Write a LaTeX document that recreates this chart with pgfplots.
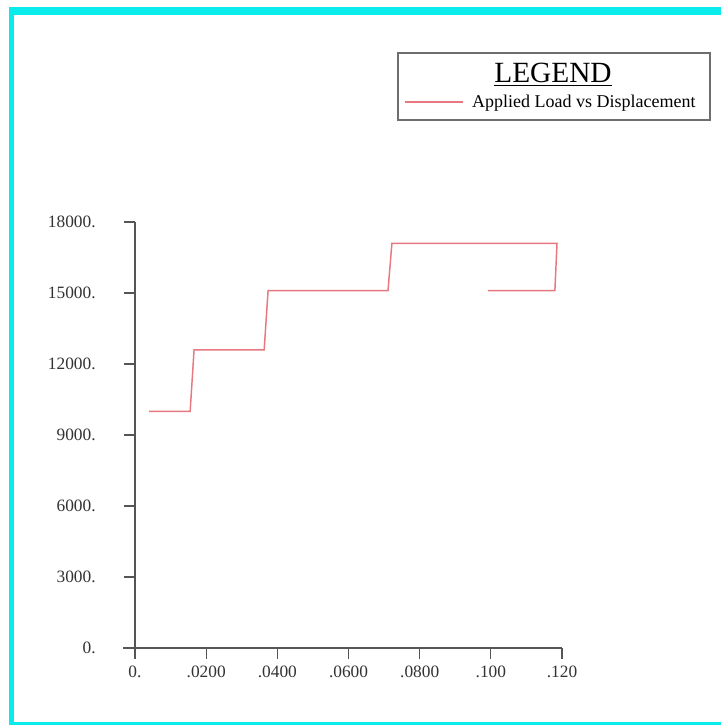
\documentclass[border=0pt]{standalone}
\usepackage{pgfplots}
\pgfplotsset{compat=1.18}
\usepackage{fontspec}
\setmainfont{Liberation Serif}
\definecolor{bordercyan}{RGB}{10,235,235}
\definecolor{axisgray}{RGB}{85,85,85}
\definecolor{loadred}{RGB}{232,120,128}
\definecolor{boxgray}{RGB}{110,110,110}
\begin{document}
\begin{tikzpicture}[x=0.75pt,y=0.75pt]
\useasboundingbox (0,0) rectangle (721,725);
\fill[white] (0,0) rectangle (721,725);
% cyan frame
\fill[bordercyan] (9,0) rectangle (14,718);
\fill[bordercyan] (9,710) rectangle (721,718);
\fill[bordercyan] (9,0) rectangle (721,3);
\begin{axis}[
  at={(101.25pt,57.75pt)}, anchor=south west,
  scale only axis, width=320.25pt, height=319.5pt,
  xmin=0, xmax=0.12, ymin=0, ymax=18000,
  scaled ticks=false,
  axis lines=left,
  axis line style={-, color=axisgray, line width=0.9pt},
  x axis line style={shorten <=-9pt},
  y axis line style={shorten <=-3pt},
  tick align=outside, major tick length=8pt,
  tick style={color=axisgray, line width=0.9pt},
  xtick={0,0.02,0.04,0.06,0.08,0.1,0.12},
  xticklabels={0.,.0200,.0400,.0600,.0800,.100,.120},
  ytick={0,3000,6000,9000,12000,15000,18000},
  yticklabels={0.,3000.,6000.,9000.,12000.,15000.,18000.},
  ticklabel style={font=\fontsize{13}{15}\selectfont, color=black!80},
  xticklabel style={yshift=-2pt},
  yticklabel style={anchor=east, xshift=-18pt},
  clip=false,
  legend style={at={(axis description cs:0.62,1.282)}, anchor=west,
    draw=none, fill=none, column sep=4pt, font=\fontsize{13.5}{15}\selectfont},
  legend image code/.code={\draw[#1] (0pt,0pt) -- (44pt,0pt);},
]
\addplot[color=loadred, line width=1.1pt] coordinates {
  (0.0040,10000) (0.0155,10000) (0.0166,12600) (0.0363,12600)
  (0.0374,15100) (0.0711,15100) (0.0722,17100) (0.1186,17100)
  (0.1180,15100) (0.0992,15100)
};
\addlegendentry{Applied Load vs Displacement}
\end{axis}
% legend box and title
\draw[boxgray, line width=1.1pt] (398,605) rectangle (710,672);
\node[font=\fontsize{22}{24}\selectfont, inner sep=0pt, anchor=base] at (553,642) {\underline{LEGEND}};
\end{tikzpicture}
\end{document}
